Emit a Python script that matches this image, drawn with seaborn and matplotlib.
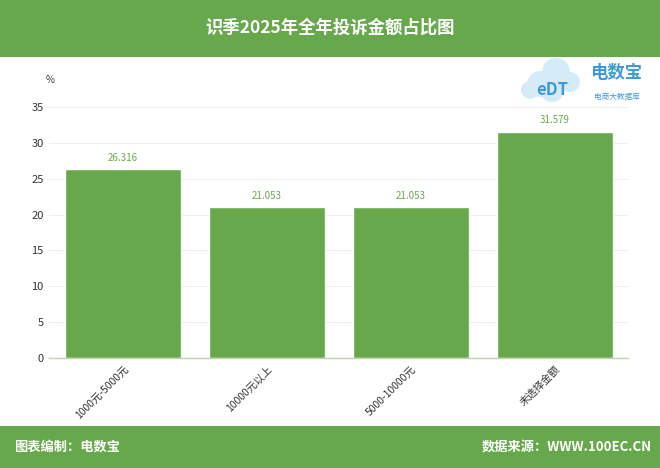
import matplotlib
matplotlib.use("Agg")
import matplotlib.pyplot as plt
import seaborn as sns
import pandas as pd
from matplotlib.patches import Rectangle, Ellipse

categories = ["1000元-5000元", "10000元以上", "5000-10000元", "未选择金额"]
values = [26.316, 21.053, 21.053, 31.579]
value_labels = ["26.316", "21.053", "21.053", "31.579"]
yticks = [0, 5, 10, 15, 20, 25, 30, 35]

GREEN = "#68a84c"
W, H = 660, 468

sns.set_theme(style="white")
plt.rcParams['font.family'] = ['Noto Sans CJK SC', 'DejaVu Sans']

fig = plt.figure(figsize=(6.6, 4.68), dpi=100)
fig.patch.set_facecolor("white")
# header and footer bands
fig.patches.append(Rectangle((0, 411/H), 1, 57/H, transform=fig.transFigure,
                             facecolor=GREEN, edgecolor="none", zorder=0))
fig.patches.append(Rectangle((0, 0), 1, 42/H, transform=fig.transFigure,
                             facecolor=GREEN, edgecolor="none", zorder=0))

# logo cloud (light)
for cx, cy, r in [(540, 84, 13), (556, 72, 14), (570, 82, 10), (530, 90, 9), (552, 90, 12)]:
    fig.patches.append(Ellipse((cx/W, 1 - cy/H), 2*r/W, 2*r/H, transform=fig.transFigure,
                               facecolor="#d6ebf8", edgecolor="none", zorder=0))

ax = fig.add_axes([49/W, (H-358)/H, (628-49)/W, (358-107)/H])
df = pd.DataFrame({"cat": categories, "val": values})
sns.barplot(data=df, x="cat", y="val", color=GREEN, saturation=1, width=0.8, ax=ax)

for i, (v, lab) in enumerate(zip(values, value_labels)):
    ax.text(i, v + 0.9, lab, ha="center", va="bottom", fontsize=7, color=GREEN)

ax.set_ylim(0, 35)
ax.set_xlim(-0.514, 3.507)
ax.set_yticks(yticks)
ax.set_yticklabels([str(t) for t in yticks], fontsize=8, color="#333333")
ax.set_xticks(range(len(categories)))
ax.set_xticklabels(categories, rotation=45, ha="right", rotation_mode="anchor",
                   fontsize=7.5, color="#333333")
ax.tick_params(axis="y", length=0, pad=4)
ax.tick_params(axis="x", length=0, pad=4)
ax.set_xlabel("")
ax.set_ylabel("")
ax.grid(axis="y", color="#eeeeee", linewidth=0.8)
ax.set_axisbelow(True)
for s in ["top", "right", "left"]:
    ax.spines[s].set_visible(False)
ax.spines["bottom"].set_color("#bcd4b0")
ax.spines["bottom"].set_linewidth(1)
ax.patch.set_alpha(0)

fig.text(50/W, 1 - 80/H, "%", fontsize=7, color="#333333", ha="center", va="center")

# title
fig.text(0.5, 1 - 28/H, "识季2025年全年投诉金额占比图", fontsize=12.5, fontweight="bold",
         color="white", ha="center", va="center")

# logo texts
fig.text(552/W, 1 - 90/H, "eDT", fontsize=12, color="#3d9ad6", ha="center",
         va="center", fontweight="bold", style="italic")
fig.text(616/W, 1 - 73/H, "电数宝", fontsize=12.5, color="#3d9ad6", ha="center",
         va="center", fontweight="bold")
fig.text(617/W, 1 - 97/H, "电商大数据库", fontsize=5.5, color="#3d9ad6", ha="center",
         va="center")

# footer
fig.text(14/W, 21/H, "图表编制：电数宝", fontsize=9.5, fontweight="bold",
         color="white", ha="left", va="center")
fig.text(652/W, 21/H, "数据来源：WWW.100EC.CN", fontsize=9.5, fontweight="bold",
         color="white", ha="right", va="center")

fig.savefig("out.png", dpi=100)
